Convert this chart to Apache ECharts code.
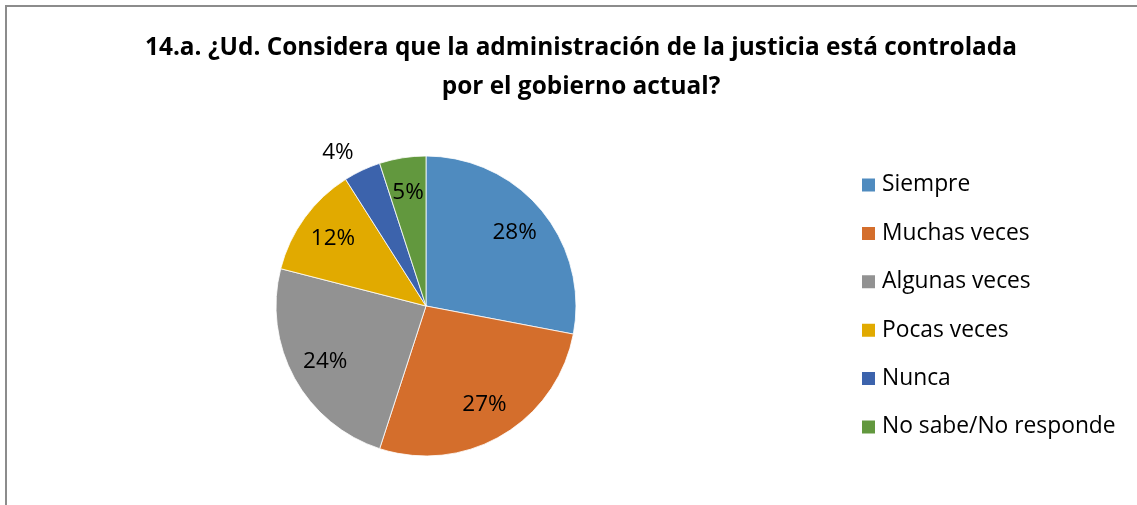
<!DOCTYPE html>
<html><head><meta charset="utf-8">
<script src="https://cdn.jsdelivr.net/npm/echarts@6/dist/echarts.min.js"></script>
<style>
html,body{margin:0;padding:0;background:#fff;}
#frame{position:absolute;left:5px;top:5px;width:1200px;height:600px;border-left:2px solid #8c8c8c;border-top:2px solid #8c8c8c;}
#c{position:absolute;left:0;top:0;width:1137px;height:505px;}
</style></head><body>
<div id="frame"></div>
<div id="c"></div>
<script>
const titleText = '14.a. ¿Ud. Considera que la administración de la justicia está controlada\npor el gobierno actual?';
const categories = ['Siempre', 'Muchas veces', 'Algunas veces', 'Pocas veces', 'Nunca', 'No sabe/No responde'];
const values = [28, 27, 24, 12, 4, 5];
const colors = ['#4F8BBF', '#D46E2C', '#929292', '#E1AA00', '#3C63AC', '#62983E'];
const labelTexts = ['28%', '27%', '24%', '12%', '4%', '5%'];
const outsideLabels = ['Nunca'];

const font = '"Open Sans", Lato, sans-serif';
const chart = echarts.init(document.getElementById('c'), null, {renderer: 'canvas'});
const center = [426, 306];
const pieData = categories.map((n, i) => ({name: n, value: values[i], itemStyle: {color: colors[i]}}));
const labelData = categories.map((n, i) => {
  const out = outsideLabels.includes(n);
  return {
    name: n, value: values[i],
    label: out ? {position: 'outside', distanceToLabelLine: 0} : {position: 'inside'},
    labelLine: {show: false, length: 20, length2: 0}
  };
});
chart.setOption({
  animation: false,
  backgroundColor: 'transparent',
  title: {
    text: titleText, left: 576, top: 24, textAlign: 'center',
    textStyle: {fontFamily: font, fontWeight: 'bold', fontSize: 24.4, lineHeight: 39, color: '#000'}
  },
  legend: {
    orient: 'vertical', left: 860, top: 173, padding: 0,
    itemWidth: 15, itemHeight: 15, itemGap: 24.4, icon: 'rect',
    textStyle: {fontFamily: font, fontSize: 22.8, lineHeight: 24, color: '#000', padding: [0, 0, 0, 1]},
    data: categories
  },
  series: [
    {
      type: 'pie', center: center, radius: [0, 150], startAngle: 90, clockwise: true,
      label: {show: false}, labelLine: {show: false},
      itemStyle: {borderColor: '#ffffff', borderWidth: 0.8},
      emphasis: {disabled: true},
      data: pieData
    },
    {
      type: 'pie', center: center, radius: [74, 150], startAngle: 90, clockwise: true,
      silent: true, legendHoverLink: false,
      itemStyle: {color: 'rgba(0,0,0,0)'},
      label: {
        show: true, fontFamily: font, fontSize: 22.5, color: '#000',
        formatter: p => labelTexts[p.dataIndex]
      },
      labelLine: {show: false},
      emphasis: {disabled: true},
      data: labelData
    }
  ]
});
</script>
</body></html>
